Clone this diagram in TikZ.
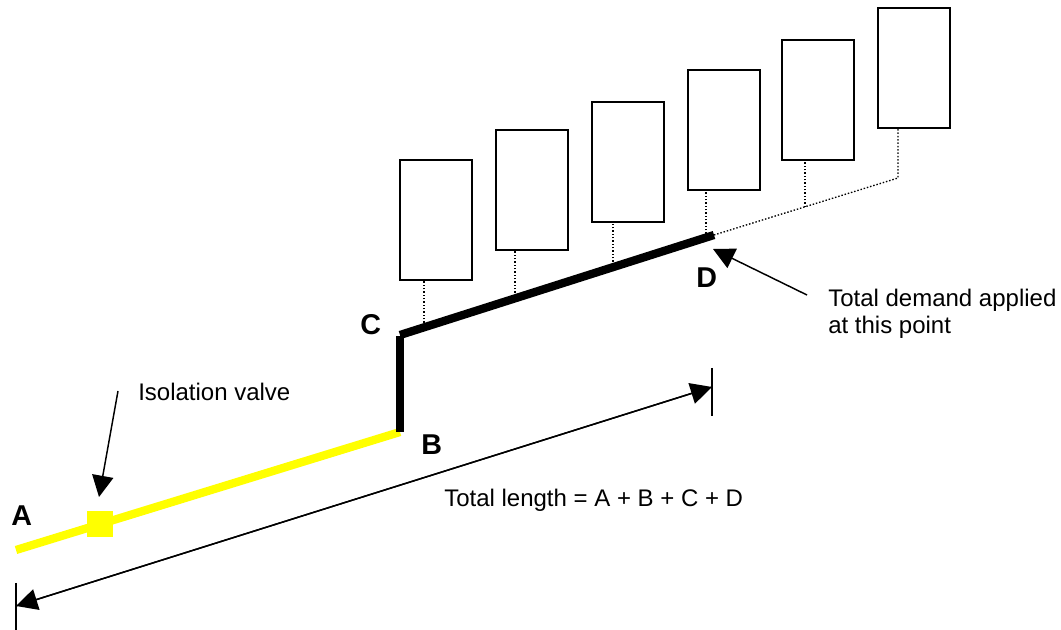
\documentclass[tikz,border=0pt]{standalone}
\usepackage{fontspec}
\setmainfont{Liberation Sans}
\usetikzlibrary{arrows.meta}
\definecolor{pipeyellow}{RGB}{255,255,0}
\tikzset{
  unit/.style={draw=black,line width=1.1pt,minimum width=54pt,minimum height=90pt,inner sep=0pt,outer sep=0pt,anchor=north west},
  txt/.style={inner sep=0pt,anchor=base west,font=\fontsize{18}{20.3}\selectfont,align=left},
  letter/.style={inner sep=0pt,anchor=base west,font=\fontsize{21.5}{24}\selectfont\bfseries},
  tie/.style={line width=1pt,dash pattern=on 1.1pt off 1.4pt},
  pipey/.style={pipeyellow,line width=6.2pt},
  pipek/.style={black,line width=6.2pt},
  thin arrow/.style={line width=1.1pt,-{Triangle[length=16pt,width=16pt]},shorten >=0pt},
  tick/.style={line width=1.1pt}
}
\begin{document}
\begin{tikzpicture}[x=0.75pt,y=-0.75pt]
\useasboundingbox (0,0) rectangle (1061,630);
% points
\coordinate (A) at (16,550);
\coordinate (B) at (400,432);
\coordinate (C) at (400,335);
\coordinate (D) at (714,235);
\coordinate (E) at (898,178);
\coordinate (t1) at (16,583); \coordinate (t2) at (16,630);
\coordinate (t3) at (712,368); \coordinate (t4) at (712,416);
\coordinate (dl) at (16,606); \coordinate (dr) at (712,387);
\coordinate (j1) at (424,326); \coordinate (j2) at (515,296); \coordinate (j3) at (613,265);
\coordinate (j4) at (706,237); \coordinate (j5) at (805,207);
\coordinate (vt) at (118,391); \coordinate (vh) at (99,497);
\coordinate (dt) at (807,295); \coordinate (dh) at (713,249);
% boxes
\node[unit] (u1) at (400,160) {};
\node[unit] (u2) at (496,130) {};
\node[unit] (u3) at (592,102) {};
\node[unit] (u4) at (688,70) {};
\node[unit] (u5) at (782,40) {};
\node[unit] (u6) at (878,8) {};
% dotted ties
\draw[tie] (j1) -- (424,280);
\draw[tie] (j2) -- (515,250);
\draw[tie] (j3) -- (613,222);
\draw[tie] (j4) -- (706,190);
\draw[tie] (j5) -- (805,160);
\draw[tie] (D) -- (E) -- (898,128);
% pipes
\draw[pipey] (A) -- (B);
\node[fill=pipeyellow,minimum size=19.5pt,inner sep=0pt] (valve) at (100,524) {};
\draw[pipek] (400,336.5) -- (400,432);
\draw[pipek] (C) -- (D);
% dimension
\draw[tick] (t1) -- (t2);
\draw[tick] (t3) -- (t4);
\draw[thin arrow] (dr) -- (dl);
\draw[thin arrow] (dl) -- (dr);
% callouts
\draw[thin arrow] (vt) -- (vh);
\draw[thin arrow] (dt) -- (dh);
% labels
\node[letter] (la) at (11,526) {A};
\node[letter] (lb) at (421,455) {B};
\node[letter] (lc) at (360,335) {C};
\node[letter] (ld) at (696,288) {D};
\node[txt] (iso) at (138,401) {Isolation valve};
\node[txt,anchor=north west] (dem) at (828,289) {Total demand applied\\at this point};
\node[txt] (len) at (444,507) {Total length = A + B + C + D};
\end{tikzpicture}
\end{document}
